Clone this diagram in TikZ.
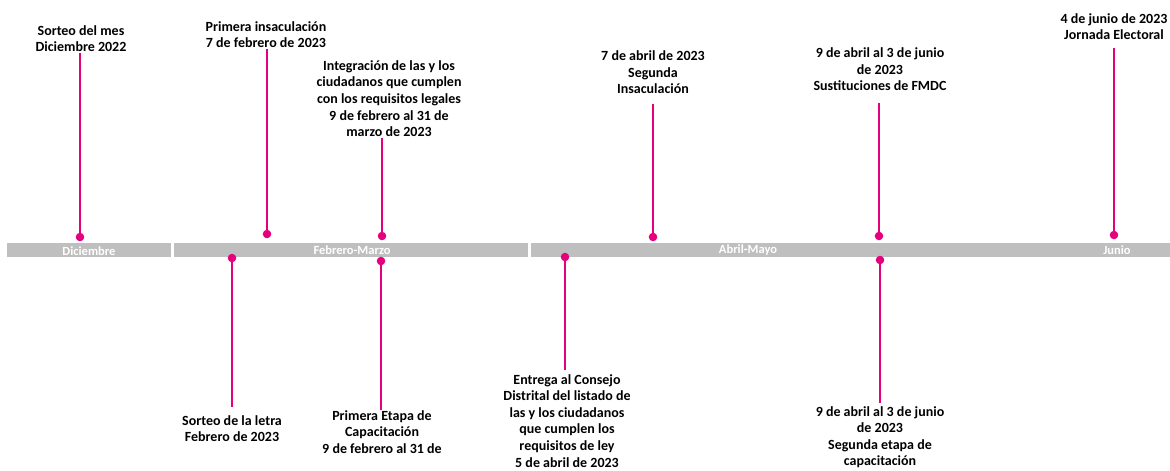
\documentclass[tikz,border=0pt]{standalone}
\usepackage{fontspec}
\setmainfont{Carlito}
\usepackage{tikz}
\definecolor{inepink}{HTML}{E5007D}
\definecolor{bargray}{HTML}{BFBFBF}
\tikzstyle{pin}=[circle,fill=inepink,inner sep=0mm,minimum size=3mm]
\tikzstyle{stem}=[draw=inepink,line width=2.4pt]
\tikzstyle{event}=[align=center,inner sep=1pt,font=\bfseries\fontsize{14}{16.6}\selectfont]
\tikzstyle{month}=[text=white,inner sep=0mm,font=\bfseries\fontsize{12.5}{12}\selectfont]

\begin{document}
\begin{tikzpicture}[x=1pt,y=-1pt]
      \useasboundingbox[fill=white] (0,0) rectangle (1170,471);
      % barra de meses
      \fill[bargray] (7,243) rectangle (171,257);
      \fill[bargray] (174,243) rectangle (528,257);
      \fill[bargray] (531,243) rectangle (1170,257);
      \node[month] at (89,251) (dic) {Diciembre};
      \node[month] at (352,250) (febmar) {Febrero-Marzo};
      \node[month] at (748,250) (abrmay) {Abril-Mayo};
      \node[month] at (1117,250) (jun) {Junio};
      % eventos arriba
      \node[pin] at (80,237) (P1) {};
      \node[pin] at (267,234) (P2) {};
      \node[pin] at (382,236) (P3) {};
      \node[pin] at (653,237) (P4) {};
      \node[pin] at (879,236) (P5) {};
      \node[pin] at (1114,235) (P6) {};
      \node[event,anchor=south] at (81,53) (T1) {Sorteo del mes\\Diciembre 2022};
      \node[event,anchor=south] at (266,49) (T2) {Primera insaculación\\7 de febrero de 2023};
      \node[event,anchor=south] at (389,138) (T3) {Integración de las y los\\ciudadanos que cumplen\\con los requisitos legales\\9 de febrero al 31 de\\marzo de 2023};
      \node[event,anchor=south] at (653,95) (T4) {7 de abril de 2023\\Segunda\\Insaculación};
      \node[event,anchor=south] at (880,92) (T5) {9 de abril al 3 de junio\\de 2023\\Sustituciones de FMDC};
      \node[event,anchor=south] at (1114,41) (T6) {4 de junio de 2023\\Jornada Electoral};
      \draw[stem] (P1) -- (P1 |- T1.south);
      \draw[stem] (P2) -- (P2 |- T2.south);
      \draw[stem] (P3) -- (P3 |- T3.south);
      \draw[stem] (P4) -- (P4 |- 0,104);
      \draw[stem] (P5) -- (P5 |- 0,103);
      \draw[stem] (P6) -- (P6 |- 0,48);
      % eventos abajo
      \node[pin] at (232,258) (B1) {};
      \node[pin] at (381,261) (B2) {};
      \node[pin] at (565,257) (B3) {};
      \node[pin] at (880,260) (B4) {};
      \node[event,anchor=north] at (232,414) (S1) {Sorteo de la letra\\Febrero de 2023};
      \node[event,anchor=north] at (382,409) (S2) {Primera Etapa de\\Capacitación\\9 de febrero al 31 de};
      \node[event,anchor=north] at (567,373) (S3) {Entrega al Consejo\\Distrital del listado de\\las y los ciudadanos\\que cumplen los\\requisitos de ley\\5 de abril de 2023};
      \node[event,anchor=north] at (880,405) (S4) {9 de abril al 3 de junio\\de 2023\\Segunda etapa de\\capacitación};
      \draw[stem] (B1) -- (B1 |- 0,407);
      \draw[stem] (B2) -- (B2 |- 0,410);
      \draw[stem] (B3) -- (B3 |- 0,370);
      \draw[stem] (B4) -- (B4 |- 0,403);
    \end{tikzpicture}
\end{document}
